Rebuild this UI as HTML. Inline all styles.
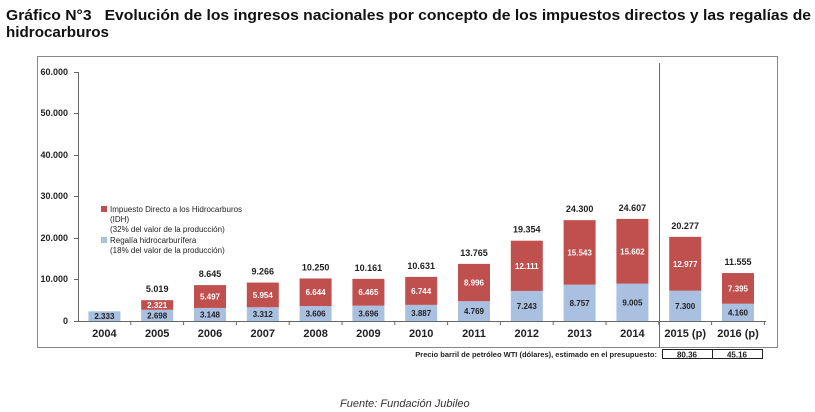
<!DOCTYPE html>
<html><head><meta charset="utf-8"><style>html,body{margin:0;padding:0;background:#fff;width:815px;height:412px;overflow:hidden}</style></head>
<body>
<svg width="815" height="412" xmlns="http://www.w3.org/2000/svg" font-family="Liberation Sans, sans-serif">
<text x="6" y="20" font-size="15" font-weight="bold" textLength="805" lengthAdjust="spacingAndGlyphs" fill="#111">Gráfico N°3&#160;&#160;&#160;Evolución de los ingresos nacionales por concepto de los impuestos directos y las regalías de</text>
<text x="6" y="37" font-size="15" font-weight="bold" textLength="103" lengthAdjust="spacingAndGlyphs" fill="#111">hidrocarburos</text>
<rect x="37.5" y="56.5" width="740" height="291" fill="none" stroke="#888" stroke-width="1"/>
<line x1="659.5" y1="63" x2="659.5" y2="348" stroke="#4a6fa5" stroke-width="1"/>
<g stroke="#666" stroke-width="1">
<line x1="78.5" y1="72" x2="78.5" y2="321"/>
<line x1="78" y1="321.5" x2="766" y2="321.5"/>
<line x1="74" y1="72.5" x2="78" y2="72.5"/><line x1="74" y1="113.5" x2="78" y2="113.5"/><line x1="74" y1="155.5" x2="78" y2="155.5"/><line x1="74" y1="196.5" x2="78" y2="196.5"/><line x1="74" y1="238.5" x2="78" y2="238.5"/><line x1="74" y1="279.5" x2="78" y2="279.5"/><line x1="74" y1="321.5" x2="78" y2="321.5"/>
</g>
<g font-size="9" font-weight="bold" text-anchor="end" fill="#222">
<text x="68" y="75">60.000</text><text x="68" y="116">50.000</text><text x="68" y="158">40.000</text><text x="68" y="199">30.000</text><text x="68" y="241">20.000</text><text x="68" y="282">10.000</text><text x="68" y="324">0</text>
</g>
<g id="bars"></g>
<g font-size="8" fill="#222">
<rect x="101" y="206" width="6" height="6" fill="#c0504d"/>
<text x="110" y="212">Impuesto Directo a los Hidrocarburos</text>
<text x="110" y="222">(IDH)</text>
<text x="110" y="232">(32% del valor de la producción)</text>
<rect x="101" y="237" width="6" height="6" fill="#a9c0e0"/>
<text x="110" y="243">Regalía hidrocarburífera</text>
<text x="110" y="253">(18% del valor de la producción)</text>
</g>
<text x="657" y="357" font-size="7.5" font-weight="bold" text-anchor="end" fill="#222">Precio barril de petróleo WTI (dólares), estimado en el presupuesto:</text>
<rect x="662.5" y="349.5" width="100" height="9" fill="none" stroke="#222"/>
<line x1="712.5" y1="349.5" x2="712.5" y2="358.5" stroke="#222"/>
<text x="687" y="357.5" font-size="8" font-weight="bold" text-anchor="middle" fill="#222">80.36</text>
<text x="737" y="357.5" font-size="8" font-weight="bold" text-anchor="middle" fill="#222">45.16</text>
<text x="340" y="407" font-size="11" font-style="italic" fill="#333">Fuente: Fundación Jubileo</text>
</svg>
<script>
var years=["2004","2005","2006","2007","2008","2009","2010","2011","2012","2013","2014","2015 (p)","2016 (p)"];
var reg=[2333,2698,3148,3312,3606,3696,3887,4769,7243,8757,9005,7300,4160];
var idh=[0,2321,5497,5954,6644,6465,6744,8996,12111,15543,15602,12977,7395];
var tot=[null,"5.019","8.645","9.266","10.250","10.161","10.631","13.765","19.354","24.300","24.607","20.277","11.555"];
function f(v){var s=String(v);return s.length>3?s.slice(0,s.length-3)+"."+s.slice(-3):s;}
var ns="http://www.w3.org/2000/svg",g=document.getElementById("bars");
function el(t,a,txt){var e=document.createElementNS(ns,t);for(var k in a)e.setAttribute(k,a[k]);if(txt)e.textContent=txt;g.appendChild(e);return e;}
var y0=321,k=4.15/1000,w=52.8;
for(var i=0;i<13;i++){
 var cx=78+w/2+w*i, bw=32;
 var hr=reg[i]*k, hi=idh[i]*k;
 el("rect",{x:cx-bw/2,y:y0-hr,width:bw,height:hr,fill:"#a9c0e0"});
 el("text",{x:cx,y:y0-hr/2+3,"font-size":"8","font-weight":"bold","text-anchor":"middle",fill:"#222"},f(reg[i]));
 if(hi>0){
  el("rect",{x:cx-bw/2,y:y0-hr-hi,width:bw,height:hi,fill:"#c0504d"});
  el("text",{x:cx,y:y0-hr-hi/2+3,"font-size":"8","font-weight":"bold","text-anchor":"middle",fill:"#fff"},f(idh[i]));
  el("text",{x:cx,y:y0-hr-hi-8,"font-size":"9","font-weight":"bold","text-anchor":"middle",fill:"#222"},tot[i]);
 }
 el("line",{x1:78+w*(i+1),y1:321,x2:78+w*(i+1),y2:325,stroke:"#666"});
 el("text",{x:cx,y:337,"font-size":"11","font-weight":"bold","text-anchor":"middle",fill:"#222"},years[i]);
}
</script>
</body></html>
